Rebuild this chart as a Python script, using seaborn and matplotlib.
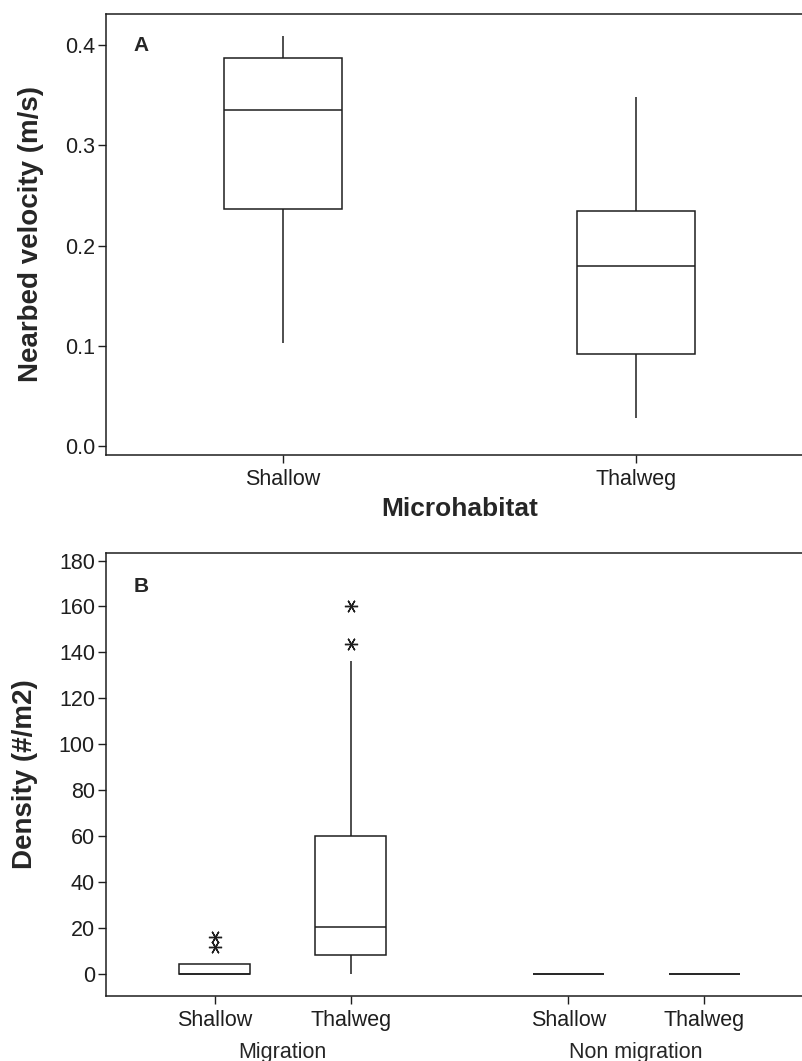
import pandas as pd
import matplotlib.pyplot as plt
import seaborn as sns

# Panel A: nearbed velocity (m/s), five-number summaries
habitats = ['Shallow', 'Thalweg']
vel_shallow = [0.103, 0.237, 0.335, 0.387, 0.409]
vel_thalweg = [0.028, 0.092, 0.180, 0.235, 0.348]

# Panel B: density (#/m2) by period and microhabitat
# values arranged so the quartiles, whiskers and outliers match the figure
periods = ['Migration', 'Non migration']
dens_mig_shallow = [0, 0, 0, 0, 0, 4.5, 4.5, 11.8, 16.2]
dens_mig_thalweg = [0, 8.3, 8.3, 8.3, 20.3, 20.3, 20.3, 60.2, 60.2, 60.2, 136.4, 143.6, 160.2]
dens_non_shallow = [0, 0, 0, 0, 0]
dens_non_thalweg = [0, 0, 0, 0, 0]

df_a = pd.DataFrame({
    'Microhabitat': ['Shallow'] * len(vel_shallow) + ['Thalweg'] * len(vel_thalweg),
    'velocity': vel_shallow + vel_thalweg,
})

rows = []
for period, habitat, vals in [
    ('Migration', 'Shallow', dens_mig_shallow),
    ('Migration', 'Thalweg', dens_mig_thalweg),
    ('Non migration', 'Shallow', dens_non_shallow),
    ('Non migration', 'Thalweg', dens_non_thalweg),
]:
    for v in vals:
        rows.append({'Period': period, 'Microhabitat': habitat, 'density': v})
df_b = pd.DataFrame(rows)

sns.set_style('ticks')
plt.rcParams['font.family'] = ['Liberation Sans', 'DejaVu Sans']
plt.rcParams['axes.linewidth'] = 1.1
plt.rcParams['xtick.major.width'] = 1.0
plt.rcParams['ytick.major.width'] = 1.0

ink = '#1e1e1e'
box_kws = dict(
    linecolor=ink, linewidth=1.1, showcaps=False, fliersize=9.5,
    flierprops=dict(marker=(6, 2, 90), markeredgecolor=ink, markeredgewidth=1.0),
)

fig = plt.figure(figsize=(8.03, 10.61), dpi=100)
W, H = 803, 1061
ax_a = fig.add_axes([106 / W, 1 - 454.5 / H, 707 / W, 441 / H])
ax_b = fig.add_axes([106 / W, 1 - 995.5 / H, 707 / W, 443 / H])

# ---- panel A
sns.boxplot(data=df_a, x='Microhabitat', y='velocity', order=habitats,
            color='white', width=0.334, ax=ax_a, **box_kws)
ax_a.set_xlim(-0.5, 1.5)
ax_a.set_ylim(-0.008, 0.4315)
ax_a.set_yticks([0.0, 0.1, 0.2, 0.3, 0.4])
ax_a.set_ylabel('Nearbed velocity (m/s)', fontsize=20, fontweight='bold')
ax_a.yaxis.set_label_coords(-0.087, 0.5)
ax_a.set_xlabel('Microhabitat', fontsize=19, fontweight='bold')
ax_a.xaxis.set_label_coords(0.5, -0.097)
ax_a.text(0.0495, 0.928, 'A', transform=ax_a.transAxes, fontsize=15,
          fontweight='bold', ha='center', va='center')

# ---- panel B
group_w = 0.77
sns.boxplot(data=df_b, x='Period', y='density', hue='Microhabitat',
            order=periods, hue_order=habitats,
            palette={'Shallow': 'white', 'Thalweg': 'white'},
            width=group_w, gap=0.48, legend=False, ax=ax_b, **box_kws)
ax_b.set_xlim(-0.5, 1.5)
ax_b.set_ylim(-9.3, 183.5)
ax_b.set_yticks(range(0, 181, 20))
ax_b.set_ylabel('Density (#/m2)', fontsize=20, fontweight='bold')
ax_b.yaxis.set_label_coords(-0.096, 0.5)
ax_b.set_xlabel('')
off = group_w / 4
ax_b.set_xticks([-off, off, 1 - off, 1 + off], habitats * 2)
ax_b.set_xticks([0, 1], periods, minor=True)
ax_b.tick_params(axis='x', which='minor', length=0, pad=33.5, labelsize=15.5)
ax_b.text(0.0495, 0.923, 'B', transform=ax_b.transAxes, fontsize=15,
          fontweight='bold', ha='center', va='center')

for ax in (ax_a, ax_b):
    for side in ('left', 'bottom', 'top'):
        ax.spines[side].set_visible(True)
        ax.spines[side].set_color(ink)
    ax.spines['right'].set_visible(False)
    ax.tick_params(axis='both', which='major', direction='out', length=5.5,
                   color=ink, labelsize=15.5, labelcolor=ink)
    ax.tick_params(axis='x', which='major', pad=5)
    ax.tick_params(axis='y', which='major', pad=2.5)

fig.savefig('out.png', dpi=100)
